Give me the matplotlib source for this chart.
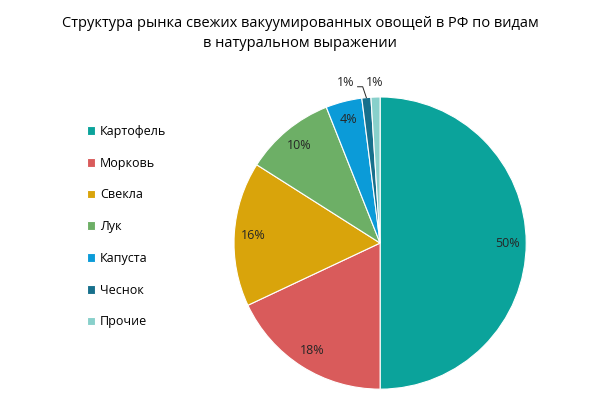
import numpy as np
import matplotlib.pyplot as plt

# Data
categories = ['Картофель', 'Морковь', 'Свекла', 'Лук', 'Капуста', 'Чеснок', 'Прочие']
shares = [50, 18, 16, 10, 4, 1, 1]
colors = ['#0ba39b', '#d95b5b', '#d9a40b', '#6daf66', '#0b9bd8', '#17708c', '#88d0cb']
title = 'Структура рынка свежих вакуумированных овощей в РФ по видам\nв натуральном выражении'

plt.rcParams['font.family'] = ['Open Sans', 'DejaVu Sans']

fig = plt.figure(figsize=(6, 4.18), dpi=100)
ax = fig.add_axes([0.39, 0.069, 0.487, 0.699])

wedges, texts = ax.pie(shares, colors=colors, startangle=90, counterclock=False,
                       wedgeprops=dict(edgecolor='white', linewidth=0.8))
ax.set_aspect('equal')
ax.set_xlim(-1, 1)
ax.set_ylim(-1, 1)

# percentage labels
for w, v in zip(wedges, shares):
    ang = np.deg2rad((w.theta1 + w.theta2) / 2)
    if v >= 4:
        r = 0.87
        ax.text(r * np.cos(ang), r * np.sin(ang), f'{v}%', ha='center', va='center',
                fontsize=9, color='#262626')

# small slices labelled outside, first one with a leader line
w5, w6 = wedges[5], wedges[6]
a5 = np.deg2rad((w5.theta1 + w5.theta2) / 2)
a6 = np.deg2rad((w6.theta1 + w6.theta2) / 2)
x0, y0 = np.cos(a5), np.sin(a5)
ax.plot([x0, x0 - 0.025, x0 - 0.06], [y0, 1.07, 1.07], color='#262626', lw=0.7,
        clip_on=False)
ax.text(x0 - 0.085, 1.10, '1%', ha='right', va='center', fontsize=9, color='#262626')
ax.text(1.1 * np.cos(a6), 1.10, '1%', ha='center', va='center', fontsize=9,
        color='#262626')

fig.legend(wedges, categories, loc='upper left', bbox_to_anchor=(0.134, 0.716),
           frameon=False, fontsize=9, labelspacing=1.5, handlelength=0.7,
           handleheight=0.7, handletextpad=0.35, borderpad=0)

fig.text(0.5, 0.92, title, ha='center', va='center', fontsize=10.5, color='#000000',
         linespacing=1.45)

fig.savefig('out.png', dpi=100)
